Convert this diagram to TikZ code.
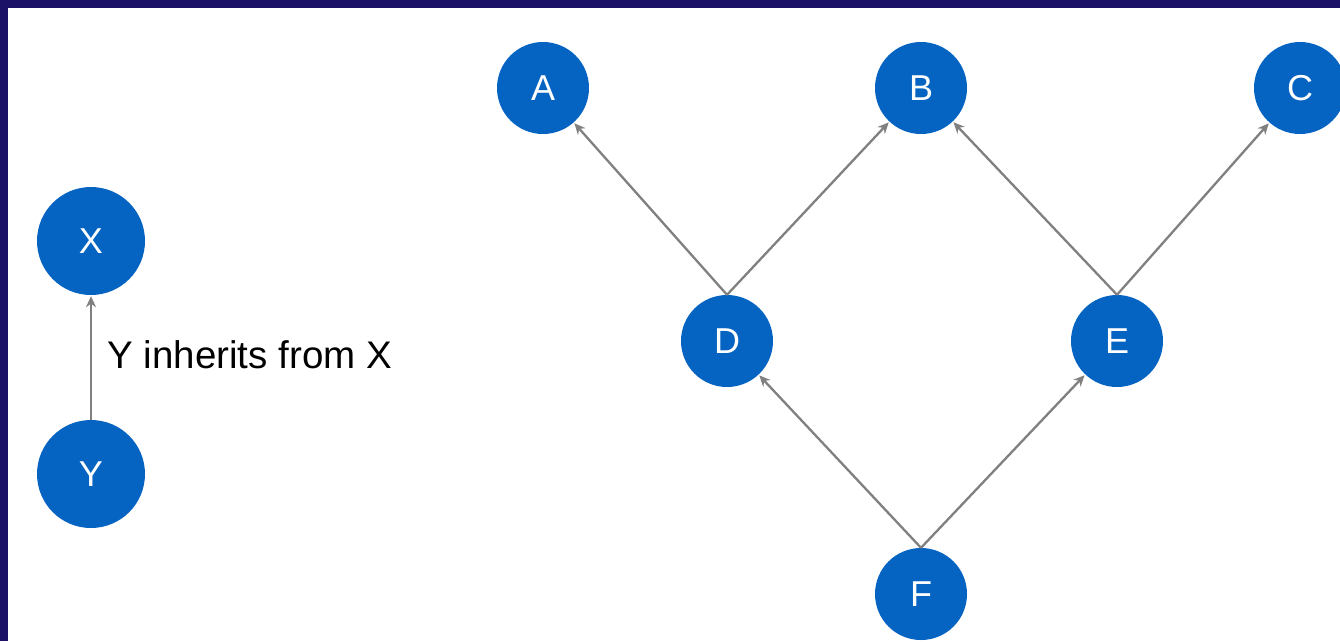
\documentclass[tikz,border=0pt]{standalone}
\usepackage{fontspec}
\setmainfont{Liberation Sans}
\usetikzlibrary{arrows.meta}
\definecolor{navy}{RGB}{27,18,104}
\definecolor{nodeblue}{RGB}{5,99,193}
\definecolor{edgegray}{RGB}{128,128,128}
\tikzset{
  cls/.style={circle, fill=nodeblue, draw=none, inner sep=0pt, minimum size=92pt,
    text=white, font=\fontsize{36}{42}\selectfont},
  bigcls/.style={cls, minimum size=108pt},
  inh/.style={draw=edgegray, line width=2.3pt, -{Stealth[length=11pt,width=10pt]}, shorten >=1pt}
}
\begin{document}
\begin{tikzpicture}[x=1pt,y=-1pt]
\useasboundingbox (0,0) rectangle (1340,641);
\fill[navy] (0,0) rectangle (1340,641);
\fill[white] (8,8) rectangle (1340,641);
\node[bigcls] (X) at (91,241) {X};
\node[bigcls] (Y) at (91,474) {Y};
\node[cls] (A) at (543,88) {A};
\node[cls] (B) at (921,88) {B};
\node[cls] (C) at (1300,88) {C};
\node[cls] (D) at (727,341) {D};
\node[cls] (E) at (1117,341) {E};
\node[cls] (F) at (921,594) {F};
\draw[inh] (Y.north) -- (X.south) node[pos=0.52, right=12pt, anchor=west, text=black, font=\fontsize{38.5}{46}\selectfont] (lbl) {Y inherits from X};
\draw[inh] (D.north) -- (A);
\draw[inh] (D.north) -- (B);
\draw[inh] (E.north) -- (B);
\draw[inh] (E.north) -- (C);
\draw[inh] (F.north) -- (D);
\draw[inh] (F.north) -- (E);
\end{tikzpicture}
\end{document}
